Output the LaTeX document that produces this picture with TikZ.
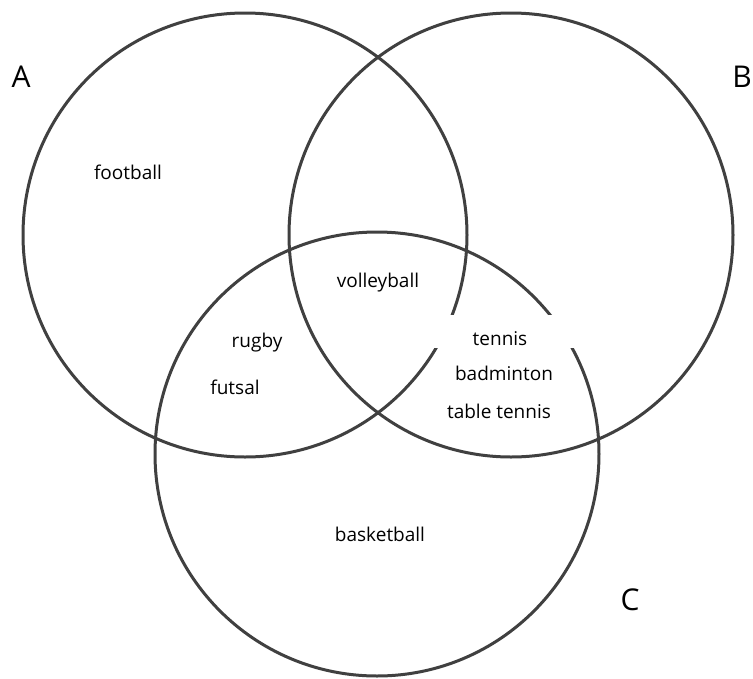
\documentclass[tikz,border=0pt]{standalone}
\usepackage{fontspec}
\setmainfont{Open Sans}
\begin{document}
\begin{tikzpicture}[
    x=1pt, y=-1pt,
    every node/.style={font=\fontsize{19}{21}\selectfont, text=black},
    setcircle/.style={
        draw=black!75, line width=3pt, circle,
        minimum size=444pt, inner sep=0pt
    },
    setname/.style={font=\fontsize{30}{32}\selectfont, inner sep=0pt},
    sport/.style={inner sep=0pt}
]

\useasboundingbox[fill=white] (0,0) rectangle (753,678);

% Mengen
\node[setcircle] (circA) at (245,235) {};
\node[setcircle] (circB) at (511,235) {};
\node[setcircle] (circC) at (377,454) {};

% weisse Flaeche hinter den Texten
\fill[white] (433,315) rectangle (578,348);

% Mengennamen
\node[setname] (labA) at (21,77)  {A};
\node[setname] (labB) at (742,77) {B};
\node[setname] (labC) at (630,600) {C};

% Elemente
\node[sport] (football)    at (128,172) {football};
\node[sport] (volleyball)  at (378,283) {volleyball};
\node[sport] (rugby)       at (257,343) {rugby};
\node[sport] (futsal)      at (235,387) {futsal};
\node[sport] (tennis)      at (500,339) {tennis};
\node[sport] (badminton)   at (504,373) {badminton};
\node[sport] (tabletennis) at (499,411) {table tennis};
\node[sport] (basketball)  at (380,534) {basketball};

\end{tikzpicture}
\end{document}
